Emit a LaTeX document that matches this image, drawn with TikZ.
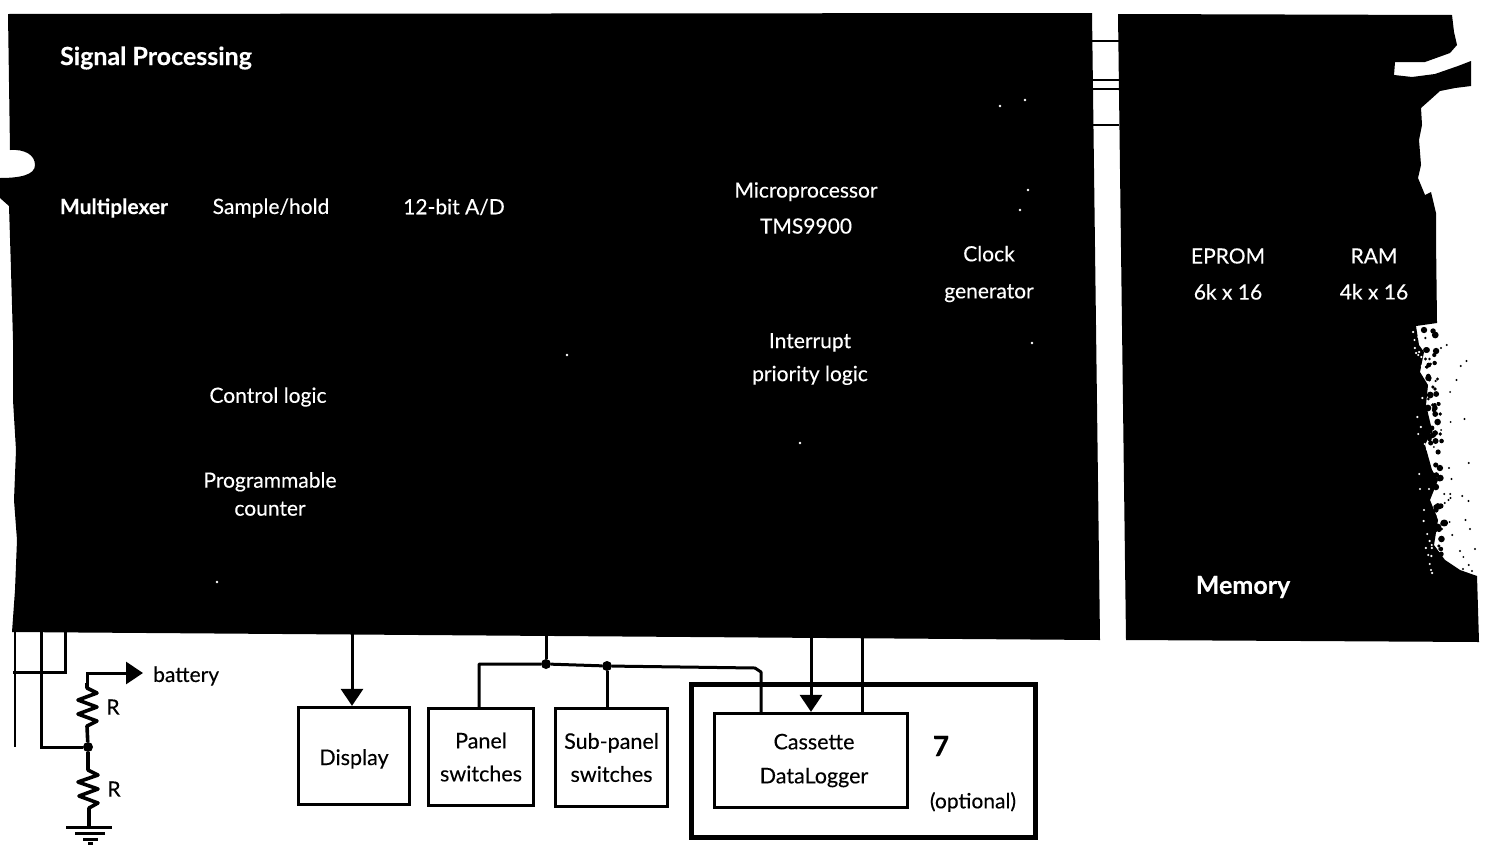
\documentclass[tikz,border=0pt]{standalone}
\usepackage{fontspec}
\setmainfont{Lato}[FakeBold=0.25]
\usetikzlibrary{arrows.meta}
\tikzset{
  panellabel/.style={text=white,align=center,font=\fontsize{21}{24}\selectfont},
  paneltitle/.style={text=white,font=\fontsize{25}{27}\selectfont\bfseries},
  unitbox/.style={draw,line width=3.3pt,align=center,font=\fontsize{21.5}{24}\selectfont},
  plainlabel/.style={align=center,font=\fontsize{21}{24}\selectfont},
  wire/.style={line width=3pt},
  thinwire/.style={line width=1.4pt},
  feed/.style={wire,-{Triangle[width=22pt,length=17pt]}},
  joint/.style={circle,fill=black,inner sep=0pt,minimum size=10pt}
}
\begin{document}
\begin{tikzpicture}[x=1pt,y=-1pt]
  \useasboundingbox (0,0) rectangle (1487,846);
  % signal processing panel
  \fill (8,14) -- (1092,13) -- (1100,640) -- (12,632) -- (15,590) -- (17,540) -- (14,500) -- (16,450)
    -- (13,400) -- (13,340) -- (11,270) -- (9,206) -- (0,198) -- (0,178)
    .. controls (20,178) and (35,175) .. (35,165) .. controls (35,155) and (25,149) .. (10,150) -- cycle;
  % memory panel
  \fill (1118,14) -- (1452,15) -- (1454,32) -- (1457,45) -- (1450,53) -- (1425,62) -- (1395,62) -- (1394,75)
    -- (1412,77) -- (1435,74) -- (1458,66) -- (1471,61) -- (1471,86) -- (1455,88) -- (1440,91) -- (1430,100)
    -- (1421,108) -- (1422,125) -- (1419,140) -- (1421,165) -- (1418,178) -- (1425,195) -- (1431,192)
    -- (1436,213) -- (1436,240) -- (1437,323) -- (1416,326) -- (1419,345) -- (1424,352) -- (1420,372)
    -- (1428,385) -- (1426,405) -- (1432,430) -- (1425,445) -- (1432,470) -- (1438,480) -- (1430,500)
    -- (1438,520) -- (1434,545) -- (1445,560) -- (1460,570) -- (1477,576) -- (1479,642) -- (1126,640) -- cycle;
  % links between the panels
  \foreach \linky in {41,80,89,125}
    \draw[thinwire] (1092,\linky) -- (1119,\linky);
  % specks
  \foreach \speckx/\specky in {567/355,217/582,1000/106,1025/100,1028/190,1020/210,1032/343,800/443}
    \fill[white] (\speckx,\specky) circle (1.3pt);
  \pgfmathsetseed{7}
  \foreach \i in {1,...,90} {
    \pgfmathsetmacro{\specky}{330+random(0,245)}
    \pgfmathsetmacro{\speckx}{1428+(\specky-330)*0.05+random(-4,8)}
    \pgfmathsetmacro{\speckr}{1+0.1*random(0,24)}
    \fill (\speckx,\specky) circle (\speckr pt);
  }
  \foreach \i in {1,...,26} {
    \pgfmathsetmacro{\specky}{330+random(0,245)}
    \pgfmathsetmacro{\speckx}{1440+(\specky-330)*0.05+random(0,26)}
    \fill (\speckx,\specky) circle (1.1pt);
  }
  \foreach \i in {1,...,30} {
    \pgfmathsetmacro{\specky}{330+random(0,245)}
    \pgfmathsetmacro{\speckx}{1422+(\specky-330)*0.05+random(-10,0)}
    \fill[white] (\speckx,\specky) circle (1.2pt);
  }
  % panel texts
  \node[paneltitle] (signal) at (156,58) {Signal Processing};
  \node[panellabel,font=\fontsize{21}{24}\selectfont\bfseries] (mux) at (114,208) {Multiplexer};
  \node[panellabel] (sample) at (271,208) {Sample/hold};
  \node[panellabel] (adc) at (454,207) {12-bit A/D};
  \node[panellabel] (micro) at (806,208) {Microprocessor\\[12pt]TMS9900};
  \node[panellabel] (clock) at (989,274) {Clock\\[13pt]generator};
  \node[panellabel] (interrupt) at (810,359) {Interrupt\\[9pt]priority logic};
  \node[panellabel] (control) at (268,397) {Control logic};
  \node[panellabel] (counter) at (270,494) {Programmable\\[4pt]counter};
  \node[panellabel] (eprom) at (1228,274) {EPROM\\[12pt]6k x 16};
  \node[panellabel] (ram) at (1374,274) {RAM\\[12pt]4k x 16};
  \node[paneltitle] (memory) at (1243,587) {Memory};
  % units below the panel
  \node[unitbox,minimum width=111pt,minimum height=97pt,text height=18pt,text depth=0pt] (display) at (354,756) {Display};
  \node[unitbox,minimum width=105pt,minimum height=97pt] (switches) at (481,757) {Panel\\[9pt]switches};
  \node[unitbox,minimum width=112pt,minimum height=98pt] (subswitches) at (611.5,757.5) {Sub-panel\\[9pt]switches};
  \node[unitbox,line width=4.5pt,minimum width=344pt,minimum height=153pt] (option) at (863.5,761) {};
  \node[unitbox,minimum width=193pt,minimum height=94pt] (logger) at (811,760.5) {\hspace*{6pt}Cassette\\[10pt]\hspace*{6pt}DataLogger};
  \node[plainlabel,font=\fontsize{28}{30}\selectfont\bfseries] (seven) at (941,746) {7};
  \node[plainlabel] (optional) at (973,802) {(optional)};
  % connectors to the units
  \coordinate (dispout) at (352,630);
  \coordinate (busout) at (546,630);
  \coordinate (logout) at (811,630);
  \coordinate (logback) at (862,630);
  \node[joint] (busleft) at (546,664) {};
  \node[joint] (busright) at (607,666) {};
  \draw[feed] (dispout) -- (display.north -| dispout);
  \draw[wire] (busout) -- (busleft);
  \draw[wire,line join=round] (switches.north -| 479,0) -- (479,664) -- (busleft) -- (busright) -- (755,668) -- (761,672) -- (logger.north -| 761,0);
  \draw[wire] (busright) -- (subswitches.north -| busright);
  \draw[feed] (logout) -- (logger.north -| logout);
  \draw[wire] (logback) -- (logger.north -| logback);
  % divider
  \coordinate (muxa) at (15,630);
  \coordinate (muxb) at (41,630);
  \coordinate (muxc) at (65,630);
  \coordinate (muxend) at (15,747);
  \coordinate (crossend) at (13,672);
  \coordinate (hot) at (87,683);
  \node[joint] (mid) at (88,747) {};
  \coordinate (gnd) at (89,827);
  \node[plainlabel,inner sep=0pt,anchor=west] (battery) at (153,676) {battery};
  \node[plainlabel,inner sep=0pt] (upper) at (113,707) {R};
  \node[plainlabel,inner sep=0pt] (lower) at (114,789) {R};
  \draw[thinwire] (muxa) -- (muxend);
  \draw[wire] (muxb) |- (mid);
  \draw[wire] (muxc) |- (crossend);
  \draw[feed] (hot) |- (143,673);
  \draw[line width=3.6pt,line join=round] (hot) -- (87,688) -- (97,693) -- (78,700) -- (97,707) -- (78,714) -- (97,721) -- (87,726) -- (mid);
  \draw[line width=3.6pt,line join=round] (mid) -- (88,770) -- (98,775) -- (78,782) -- (98,789) -- (79,796) -- (98,803) -- (89,808) -- (gnd);
  % ground
  \draw[line width=3pt] (66,827) -- (112,827);
  \draw[line width=3pt] (75,833) -- (105,833);
  \draw[line width=3pt] (83,839) -- (98,839);
  \draw[line width=3pt] (88,843) -- (93,843);
\end{tikzpicture}
\end{document}
